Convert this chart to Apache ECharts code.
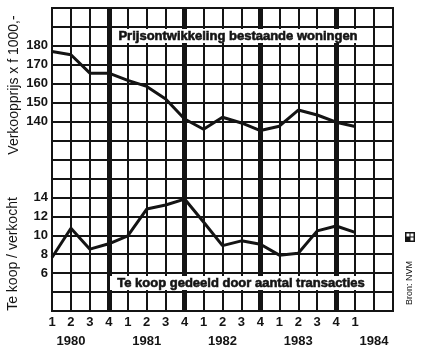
<!DOCTYPE html>
<html>
<head>
<meta charset="utf-8">
<script src="https://cdn.jsdelivr.net/npm/echarts@6/dist/echarts.min.js"></script>
<style>
  html, body { margin: 0; padding: 0; background: #fff; }
  #chart { width: 422px; height: 351px; }
</style>
</head>
<body>
<div id="chart"></div>
<script>
// kwartalen en jaren onder de x-as
var quarters = ['1', '2', '3', '4', '1', '2', '3', '4', '1', '2', '3', '4', '1', '2', '3', '4', '1', ' ', ' '];
var years = ['', '1980', '', '', '', '1981', '', '', '', '1982', '', '', '', '1983', '', '', '', '1984', ''];
// gemiddelde verkoopprijs x f 1000,-
var prices = [177.0, 175.3, 165.6, 165.6, 161.8, 158.6, 151.9, 141.4, 136.0, 142.3, 139.3, 135.3, 137.6, 146.1, 143.5, 139.7, 137.4];
// te koop / verkocht
var ratio = [7.65, 10.74, 8.53, 9.1, 9.93, 12.77, 13.19, 13.82, 11.4, 8.9, 9.41, 9.05, 7.9, 8.1, 10.46, 10.98, 10.3];
var priceTicks = [140, 150, 160, 170, 180];
var ratioTicks = [6, 8, 10, 12, 14];
var yearEnds = [3, 7, 11, 15];

var FONT = '"Liberation Sans", Arial, sans-serif';
var INK = '#141414';

var chart = echarts.init(document.getElementById('chart'));

var option = {
	backgroundColor: '#fff',
	animation: false,
	grid: { left: 52, top: 8, width: 341, height: 305, show: true, borderColor: INK, borderWidth: 2 },
	xAxis: {
		type: 'category',
		boundaryGap: false,
		data: quarters.map(function (q, i) { return String(i); }),
		axisLine: { show: true, lineStyle: { color: INK, width: 2 } },
		axisTick: { show: false },
		splitLine: { show: true, lineStyle: { color: INK, width: 2 } },
		axisLabel: {
			interval: 0,
			margin: 2,
			color: INK,
			fontFamily: FONT,
			fontWeight: 'bold',
			fontSize: 13,
			lineHeight: 19,
			formatter: function (v, i) { return quarters[i] + '\n' + (years[i] || ' '); }
		}
	},
	yAxis: [{
		type: 'value',
		min: 40, max: 200, interval: 10,
		axisLine: { show: true, lineStyle: { color: INK, width: 2 } },
		axisTick: { show: false },
		splitLine: { show: true, lineStyle: { color: INK, width: 2 } },
		axisLabel: {
			margin: 4, color: INK, fontFamily: FONT, fontWeight: 'bold', fontSize: 13,
			formatter: function (v) { return priceTicks.indexOf(v) >= 0 ? String(v) : ''; }
		}
	}, {
		type: 'value',
		position: 'left',
		min: 2, max: 34, interval: 2,
		axisLine: { show: false },
		axisTick: { show: false },
		splitLine: { show: false },
		axisLabel: {
			margin: 4, color: INK, fontFamily: FONT, fontWeight: 'bold', fontSize: 13,
			formatter: function (v) { return ratioTicks.indexOf(v) >= 0 ? String(v) : ''; }
		}
	}],
	series: [{
		type: 'line',
		yAxisIndex: 0,
		data: prices,
		symbol: 'none',
		lineStyle: { color: INK, width: 3 },
		markLine: {
			silent: true,
			symbol: ['none', 'none'],
			label: { show: false },
			lineStyle: { type: 'solid', color: INK, width: 5 },
			data: yearEnds.map(function (i) { return { xAxis: i }; })
		}
	}, {
		type: 'line',
		yAxisIndex: 1,
		data: ratio,
		symbol: 'none',
		lineStyle: { color: INK, width: 3 }
	}],
	graphic: [
		{ type: 'rect', z: 100, shape: { x: 114, y: 29, width: 246, height: 14 }, style: { fill: '#fff' } },
		{ type: 'text', z: 101, x: 238, y: 36, style: { text: 'Prijsontwikkeling bestaande woningen', fontFamily: FONT, fontWeight: 'bold', fontSize: 13, fill: INK, stroke: INK, lineWidth: 0.6, align: 'center', verticalAlign: 'middle' } },
		{ type: 'rect', z: 100, shape: { x: 110, y: 276, width: 262, height: 14 }, style: { fill: '#fff' } },
		{ type: 'text', z: 101, x: 241, y: 283, style: { text: 'Te koop gedeeld door aantal transacties', fontFamily: FONT, fontWeight: 'bold', fontSize: 13, fill: INK, stroke: INK, lineWidth: 0.6, align: 'center', verticalAlign: 'middle' } },
		{ type: 'text', z: 101, x: 14, y: 85, rotation: Math.PI / 2, style: { text: 'Verkoopprijs x f 1000,-', fontFamily: FONT, fontSize: 14, fill: INK, align: 'center', verticalAlign: 'middle' } },
		{ type: 'text', z: 101, x: 13, y: 254, rotation: Math.PI / 2, style: { text: 'Te koop / verkocht', fontFamily: FONT, fontSize: 14, fill: INK, align: 'center', verticalAlign: 'middle' } },
		{ type: 'text', z: 101, x: 410, y: 283, rotation: Math.PI / 2, style: { text: 'Bron: NVM', fontFamily: FONT, fontSize: 9, fill: INK, align: 'center', verticalAlign: 'middle' } },
		{ type: 'group', z: 101, x: 405, y: 232, children: [
			{ type: 'rect', z: 101, shape: { x: 0, y: 0, width: 10, height: 10 }, style: { fill: INK } },
			{ type: 'rect', z: 102, shape: { x: 1.5, y: 1.5, width: 3, height: 3 }, style: { fill: '#fff' } },
			{ type: 'rect', z: 102, shape: { x: 5.5, y: 5.5, width: 3, height: 3 }, style: { fill: '#fff' } },
			{ type: 'rect', z: 102, shape: { x: 5.5, y: 1.5, width: 3, height: 3 }, style: { fill: '#fff' } }
		] }
	]
};

chart.setOption(option);
</script>
</body>
</html>
